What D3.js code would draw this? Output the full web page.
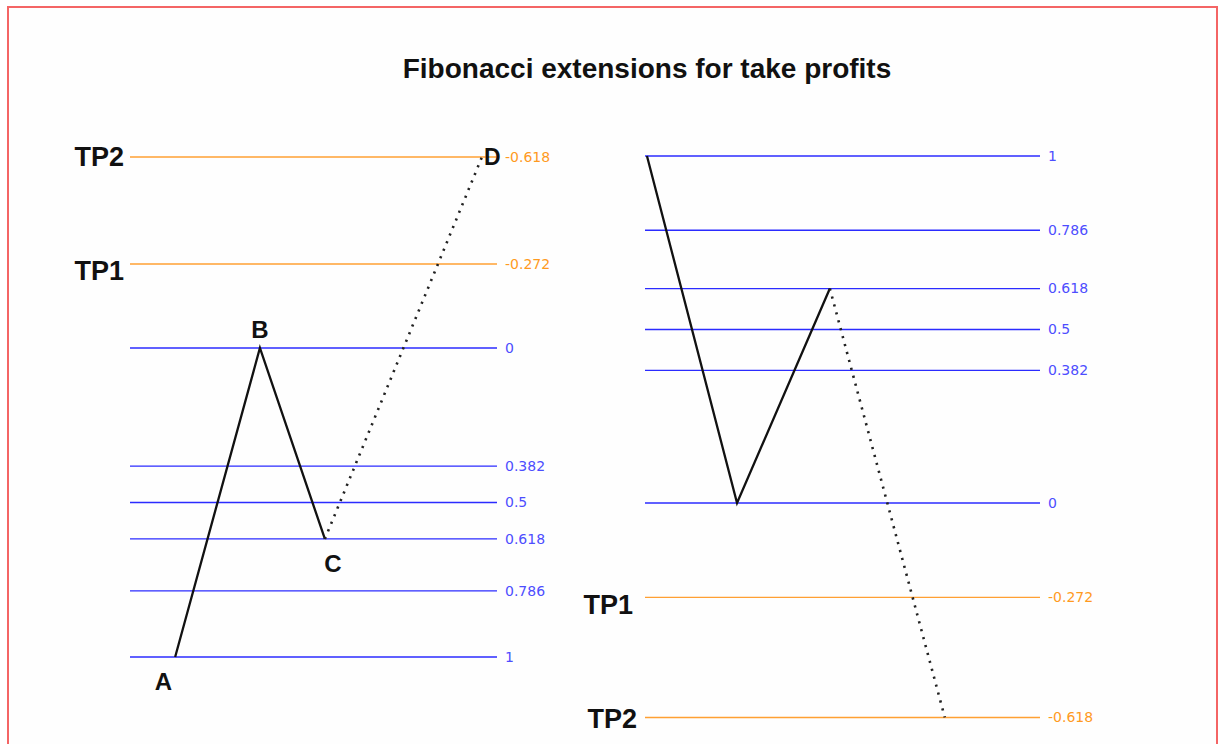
<!DOCTYPE html>
<html><head><meta charset="utf-8">
<script src="https://cdn.jsdelivr.net/npm/d3@7"></script>
<style>html,body{margin:0;padding:0;background:#fff;}svg{display:block;}</style>
</head><body>
<script>
const W = 1219, H = 744;
const title = "Fibonacci extensions for take profits";
const retraceLevels = [0, 0.382, 0.5, 0.618, 0.786, 1];
const retraceLabels = ["0", "0.382", "0.5", "0.618", "0.786", "1"];
const extLevels = [-0.272, -0.618];
const extLabels = ["-0.272", "-0.618"];
const tpNames = ["TP1", "TP2"];
// path points: x = position along panel (0-100), y = fib level
const leftPathX = [12.3, 35.4, 53.1];
const leftPathY = [1, 0, 0.618];
const leftProjX = [53.1, 95.9];
const leftProjY = [0.618, -0.618];
const leftPointNames = ["A", "B", "C", "D"];
const rightPathX = [0.5, 23.3, 46.8];
const rightPathY = [1, 0, 0.618];
const rightProjX = [46.8, 75.9];
const rightProjY = [0.618, -0.618];

const blue = "#2b2bff", blueText = "#4d4dff", orange = "#ffa033", orangeText = "#ff9a1f";

const svg = d3.select("body").append("svg").attr("width", W).attr("height", H);
svg.append("rect").attr("x", 8).attr("y", 7).attr("width", 1209).attr("height", 760)
  .attr("fill", "#fefefe").attr("stroke", "#f46565").attr("stroke-width", 2);

svg.append("text").attr("x", 647).attr("y", 78).attr("text-anchor", "middle")
  .attr("font-family", "Liberation Sans, Arial, sans-serif").attr("font-weight", "bold")
  .attr("font-size", 28).attr("fill", "#111").text(title);

function panel(cfg) {
  const x = d3.scaleLinear().domain([0, 100]).range(cfg.xr);
  const y = d3.scaleLinear().domain([0, 1]).range(cfg.yr);
  const g = svg.append("g");
  const lf = "DejaVu Sans, Verdana, sans-serif";
  retraceLevels.forEach((v, i) => {
    g.append("line").attr("x1", x(0)).attr("x2", x(100)).attr("y1", y(v)).attr("y2", y(v))
      .attr("stroke", blue).attr("stroke-width", 1.3);
    g.append("text").attr("x", x(100) + 8).attr("y", y(v)).attr("dy", "0.35em")
      .attr("font-family", lf).attr("font-size", 14).attr("fill", blueText).text(retraceLabels[i]);
  });
  extLevels.forEach((v, i) => {
    g.append("line").attr("x1", x(0)).attr("x2", x(100)).attr("y1", y(v)).attr("y2", y(v))
      .attr("stroke", orange).attr("stroke-width", 1.4);
    g.append("text").attr("x", x(100) + 8).attr("y", y(v)).attr("dy", "0.35em")
      .attr("font-family", lf).attr("font-size", 14).attr("fill", orangeText).text(extLabels[i]);
    g.append("text").attr("x", x(0) + cfg.tpDx[i]).attr("y", y(v) + cfg.tpDy[i]).attr("dy", "0.36em")
      .attr("text-anchor", "end")
      .attr("font-family", "Liberation Sans, Arial, sans-serif").attr("font-weight", "bold")
      .attr("font-size", 27).attr("fill", "#111").text(tpNames[i]);
  });
  const line = d3.line().x(d => x(d[0])).y(d => y(d[1]));
  g.append("path").datum(d3.zip(cfg.px, cfg.py)).attr("d", line)
    .attr("fill", "none").attr("stroke", "#111").attr("stroke-width", 2.3);
  g.append("path").datum(d3.zip(cfg.qx, cfg.qy)).attr("d", line)
    .attr("fill", "none").attr("stroke", "#222").attr("stroke-width", 2.6)
    .attr("stroke-dasharray", "2.2 6");
  return {x, y, g};
}

const L = panel({xr: [130, 497], yr: [348, 657], px: leftPathX, py: leftPathY, qx: leftProjX, qy: leftProjY, tpDx: [-6, -6], tpDy: [6, -1]});
const R = panel({xr: [645, 1040], yr: [503, 156], px: rightPathX, py: rightPathY, qx: rightProjX, qy: rightProjY, tpDx: [-12, -8], tpDy: [7, 1]});

// point labels on left panel
const pf = "Liberation Sans, Arial, sans-serif";
const lbl = [
  [leftPathX[0] - 3.2, leftPathY[0], 33, 24],
  [leftPathX[1], leftPathY[1], -10, 24],
  [leftPathX[2] + 2.2, leftPathY[2], 33, 24],
  [leftProjX[1] + 2.8, leftProjY[1], 8, 23]
];
lbl.forEach((p, i) => {
  L.g.append("text").attr("x", L.x(p[0])).attr("y", L.y(p[1]) + p[2])
    .attr("text-anchor", "middle").attr("font-family", pf).attr("font-weight", "bold")
    .attr("font-size", p[3]).attr("fill", "#111").text(leftPointNames[i]);
});
</script>
</body></html>
